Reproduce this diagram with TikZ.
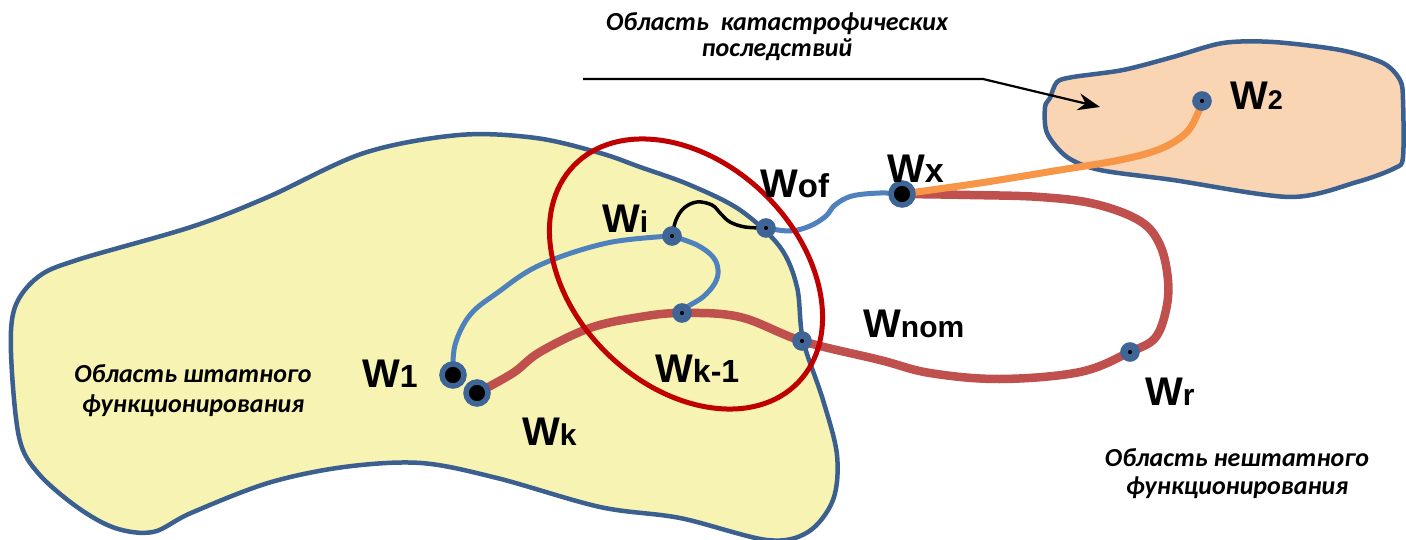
\documentclass[tikz,border=0pt]{standalone}
\usepackage{fontspec}
\usetikzlibrary{arrows.meta}
\newfontfamily\labfont{Liberation Sans}
\newfontfamily\notefont{Carlito}
\definecolor{zoneblue}{HTML}{3B5F8F}
\definecolor{normfill}{HTML}{F7F3B2}
\definecolor{catfill}{HTML}{FAD5B4}
\definecolor{ringred}{HTML}{C00000}
\definecolor{pathred}{HTML}{C0504D}
\definecolor{pathblue}{HTML}{4F81BD}
\definecolor{pathorange}{HTML}{F79646}
\definecolor{ptblue}{HTML}{3F6496}
\newcommand{\lowtag}[2][30]{{\fontsize{#1}{#1}\selectfont #2}}

\begin{document}
\begin{tikzpicture}[x=1pt, y=-1pt,
  zone/.style={draw=zoneblue, line width=4.5pt, line join=round},
  redtraj/.style={draw=pathred, line width=8.5pt, line cap=round},
  bluetraj/.style={draw=pathblue, line width=5pt, line cap=round},
  orangetraj/.style={draw=pathorange, line width=7pt, line cap=round},
  jumptraj/.style={draw=black, line width=3.5pt, line cap=round},
  bigpt/.style={circle, draw=ptblue, fill=black, line width=5.5pt, minimum size=22pt, inner sep=0pt},
  smallpt/.style={circle, draw=ptblue, fill=black, line width=7.5pt, minimum size=12pt, inner sep=0pt},
  wlabel/.style={anchor=base west, inner sep=0pt, font=\labfont\bfseries\fontsize{40}{40}\selectfont},
  note/.style={align=center, inner sep=0pt, font=\notefont\bfseries\itshape\fontsize{26}{#1}\selectfont}]
\useasboundingbox[fill=white] (0,0) rectangle (1406,540);

% regions
\draw[zone, fill=normfill] plot[smooth cycle, tension=0.55] coordinates {
  (459,135) (536,138) (600,153) (640,167) (690,185) (740,210) (780,247) (797,287)
  (803,340) (823,400) (837,455) (833,500) (808,532) (767,540) (680,518) (600,507)
  (497,478) (421,463) (344,467) (268,483) (191,513) (153,532) (115,528) (77,507)
  (38,473) (19,437) (11,353) (15,307) (38,277) (77,260) (191,227) (268,197) (364,153)};
\draw[zone, fill=catfill] plot[smooth cycle, tension=0.5] coordinates {
  (1057,82) (1073,77) (1123,70) (1173,57) (1223,43) (1273,42) (1340,50) (1383,63)
  (1400,80) (1403,100) (1403,157) (1395,168) (1357,182) (1290,197) (1173,180)
  (1100,170) (1067,157) (1047,133) (1045,107) (1050,98)};

% states
\coordinate (pW1) at (453,375);
\coordinate (pWk) at (477,393);
\coordinate (pWi) at (672,236);
\coordinate (pWof) at (766,228);
\coordinate (pK1) at (682,313);
\coordinate (pNb) at (802,341);
\coordinate (pWr) at (1130,352);
\coordinate (pWx) at (902,194);
\coordinate (pW2) at (1202,101);

% trajectories
\draw[redtraj] plot[smooth, tension=0.6] coordinates {
  (pWk) (513,373) (540,352) (590,328) (640,317) (pK1) (740,317) (pNb) (880,360)
  (930,373) (1000,379) (1080,372) (pWr) (1155,338) (1166,310) (1168,280) (1160,245)
  (1140,221) (1095,204) (1040,197) (970,195) (pWx)};
\draw[bluetraj] plot[smooth, tension=0.6] coordinates {
  (pW1) (455,345) (470,315) (497,293) (540,265) (607,243) (pWi)};
\draw[bluetraj] plot[smooth, tension=0.6] coordinates {
  (pWi) (697,245) (713,257) (718,270) (715,283) (703,297) (687,307) (pK1)};
\draw[bluetraj] plot[smooth, tension=0.6] coordinates {
  (pWof) (790,231) (810,226) (826,216) (835,205) (852,196) (880,193) (pWx)};
\draw[orangetraj] plot[smooth, tension=0.6] coordinates {
  (pWx) (980,183) (1060,170) (1120,160) (1160,149) (1186,133) (1198,113) (pW2)};
\draw[jumptraj] plot[smooth, tension=0.6] coordinates {
  (pWi) (676,220) (684,208) (697,202) (712,205) (721,214) (730,222) (745,227) (pWof)};

\draw[ringred, line width=5pt] (686,274) circle [x radius=156, y radius=112, rotate=-44];

\node[bigpt] (w1) at (pW1) {};
\node[bigpt] (wk) at (pWk) {};
\node[bigpt] (wx) at (pWx) {};
\node[smallpt] (wi) at (pWi) {};
\node[smallpt] (wof) at (pWof) {};
\node[smallpt] (wk1) at (pK1) {};
\node[smallpt] (wb) at (pNb) {};
\node[smallpt] (wr) at (pWr) {};
\node[smallpt] (w2) at (pW2) {};

% labels
\node[wlabel] (lw2) at (1230,110) {W\lowtag[27]{2}};
\node[wlabel] (lwx) at (887,183) {W\lowtag[34]{x}};
\node[wlabel] (lwof) at (760,198) {W\lowtag[33]{of}};
\node[wlabel] (lwi) at (602,233) {W\lowtag{i}};
\node[wlabel] (lwnom) at (863,337) {W\lowtag{nom}};
\node[wlabel] (lwk1) at (655,382) {W\lowtag[32]{k-1}};
\node[wlabel] (lw1) at (362,387) {W\lowtag[32]{1}};
\node[wlabel] (lwk) at (522,445) {W\lowtag{k}};
\node[wlabel] (lwr) at (1145,405) {W\lowtag{r}};

\node[note=26] (catnote) at (777,37) {Область\ \ катастрофических\\последствий};
\node[note=30] (normnote) at (193,391) {Область штатного\\функционирования};
\node[note=28] (offnote) at (1237,474) {Область нештатного\\функционирования};

\coordinate (catStart) at (583,79);
\coordinate (catBend) at (983,79);
\coordinate (catTip) at (1100,107);
\draw[line width=2.2pt, -{Stealth[length=22pt, width=17pt]}] (catStart) -- (catBend) -- (catTip);
\end{tikzpicture}
\end{document}
